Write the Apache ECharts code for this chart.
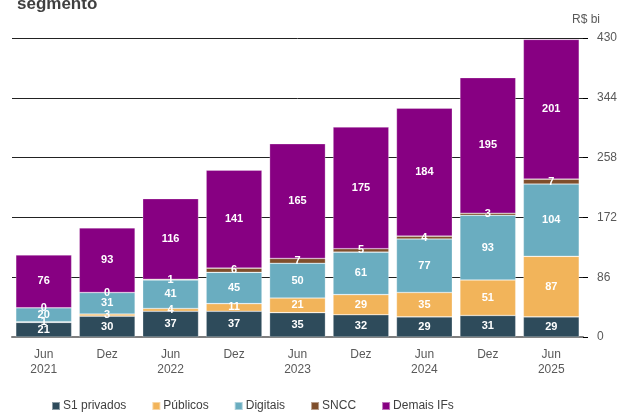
<!DOCTYPE html>
<html><head><meta charset="utf-8">
<script src="https://cdn.jsdelivr.net/npm/echarts@6/dist/echarts.min.js"></script>
<style>html,body{margin:0;padding:0;background:#fff}#c{width:630px;height:418px}</style>
</head><body><div id="c"></div>
<script>
const categories = ['Jun\n2021','Dez','Jun\n2022','Dez','Jun\n2023','Dez','Jun\n2024','Dez','Jun\n2025'];
const s1Privados = [21,30,37,37,35,32,29,31,29];
const publicos = [1,3,4,11,21,29,35,51,87];
const digitais = [20,31,41,45,50,61,77,93,104];
const sncc = [0,0,1,6,7,5,4,3,7];
const demaisIFs = [76,93,116,141,165,175,184,195,201];
const yTicks = [0,86,172,258,344,430];

const font = 'Liberation Sans, Arial, sans-serif';
function mk(name, data, color) {
  return {
    name, type: 'bar', stack: 't', data, barCategoryGap: '12%',
    itemStyle: { color, borderColor: 'rgba(255,255,255,0.45)', borderWidth: 0.6 },
    label: { show: true, position: 'inside', color: '#fff', fontWeight: 'bold', fontSize: 11, fontFamily: font },
    emphasis: { disabled: true }
  };
}
const chart = echarts.init(document.getElementById('c'));
chart.setOption({
  animation: false,
  title: { text: 'segmento', left: 12, top: -9, textStyle: { fontSize: 17, fontWeight: 'bold', color: '#404040', fontFamily: font } },
  grid: { left: 12, right: 47, top: 38, bottom: 81 },
  legend: {
    bottom: 1, left: 46, itemWidth: 8, itemHeight: 8, itemGap: 25, icon: 'rect',
    textStyle: { fontSize: 12, color: '#404040', fontFamily: font, padding: [0,0,0,-2] },
    data: ['S1 privados','Públicos','Digitais','SNCC','Demais IFs']
  },
  xAxis: {
    type: 'category', data: categories,
    axisLine: { lineStyle: { color: '#7f7f7f', width: 2 } },
    axisTick: { show: false },
    axisLabel: { color: '#595959', fontSize: 12, fontFamily: font, lineHeight: 15, margin: 10 }
  },
  yAxis: {
    type: 'value', position: 'right', min: 0, max: 430, interval: 86,
    name: 'R$ bi', nameGap: 12, nameTextStyle: { color: '#595959', fontSize: 12, fontFamily: font, align: 'center', padding: [0,0,0,6] },
    axisLine: { show: false },
    axisTick: { show: true, length: 5, lineStyle: { color: '#000' } },
    splitLine: { lineStyle: { color: '#222', width: 1 } },
    axisLabel: { color: '#595959', fontSize: 12, fontFamily: font, margin: 14,
      formatter: v => yTicks.includes(v) ? String(v) : '' }
  },
  series: [
    mk('S1 privados', s1Privados, '#2E4B5B'),
    mk('Públicos', publicos, '#F2B45A'),
    mk('Digitais', digitais, '#6AADC0'),
    mk('SNCC', sncc, '#7F4E2B'),
    mk('Demais IFs', demaisIFs, '#870082')
  ]
});
</script></body></html>
